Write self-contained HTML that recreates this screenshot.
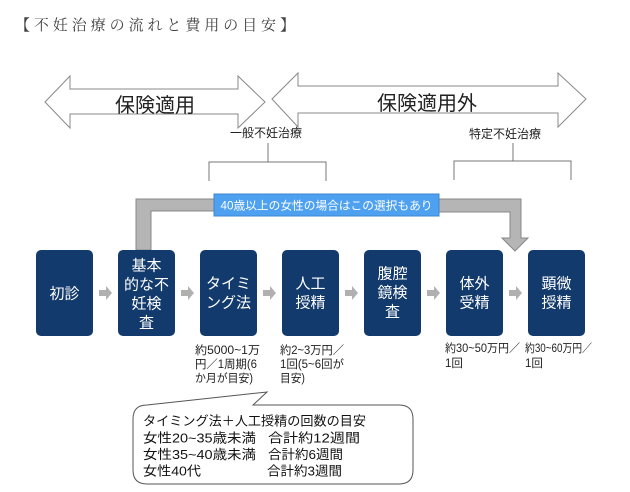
<!DOCTYPE html>
<html><head><meta charset="utf-8">
<style>
html,body{margin:0;padding:0;background:#fff;}
svg{display:block;}
text{font-family:"Liberation Sans","Noto Sans CJK JP",sans-serif;}
</style></head>
<body>
<svg width="630" height="492" viewBox="0 0 630 492" xmlns="http://www.w3.org/2000/svg">
<rect width="630" height="492" fill="#fff"/>
<!-- title -->
<text x="15" y="30" font-size="15" fill="#444" textLength="280" lengthAdjust="spacing" style="font-family:'Liberation Serif','Noto Serif CJK SC',serif">【不妊治療の流れと費用の目安】</text>

<!-- double arrows -->
<polygon points="45,102 70,76 70,89 238,89 238,76 265,102 238,128 238,114 70,114 70,128" fill="#fff" stroke="#888" stroke-width="1"/>
<text x="155" y="112" font-size="20" fill="#222" text-anchor="middle">保険適用</text>
<polygon points="272,99 298,73 298,86 558,86 558,73 586,99 558,127 558,113 298,113 298,127" fill="#fff" stroke="#888" stroke-width="1"/>
<text x="427" y="110" font-size="20" fill="#222" text-anchor="middle">保険適用外</text>

<!-- brackets -->
<text x="266" y="137" font-size="12" fill="#222" text-anchor="middle">一般不妊治療</text>
<g stroke="#777" stroke-width="1" fill="none">
<path d="M268,143 V162 M209,181 V162 H326 V181"/>
<path d="M513,143 V161 M454,180 V161 H571 V180"/>
</g>
<text x="505" y="138" font-size="12" fill="#222" text-anchor="middle">特定不妊治療</text>

<!-- gray connector -->
<path d="M136,250 V199 H230 V211 H151 V250 Z" fill="#b5b5b5" stroke="#888" stroke-width="1"/>
<path d="M420,199 H521 V238 H528 L515,251 L502,238 H510 V212 H420 Z" fill="#b5b5b5" stroke="#888" stroke-width="1"/>
<rect x="214" y="194" width="225" height="22" fill="#4ea1f0" stroke="#3d86d0" stroke-width="1"/>
<text x="326.5" y="209.5" font-size="11.5" fill="#fff" text-anchor="middle" textLength="212" lengthAdjust="spacingAndGlyphs">40歳以上の女性の場合はこの選択もあり</text>

<!-- nodes -->
<g fill="#123a6c">
<rect x="36" y="250" width="57" height="86" rx="5"/>
<rect x="118" y="250" width="57" height="86" rx="5"/>
<rect x="200" y="250" width="57" height="86" rx="5"/>
<rect x="282" y="250" width="57" height="86" rx="5"/>
<rect x="364" y="250" width="57" height="86" rx="5"/>
<rect x="446" y="250" width="57" height="86" rx="5"/>
<rect x="528" y="250" width="57" height="86" rx="5"/>
</g>
<g fill="#fff" font-size="15" text-anchor="middle">
<text x="64.5" y="298.5">初診</text>
<text x="146.5" y="270.5">基本</text>
<text x="146.5" y="289.5">的な不</text>
<text x="146.5" y="308.5">妊検</text>
<text x="146.5" y="327.5">査</text>
<text x="228.5" y="288.5">タイミ</text>
<text x="228.5" y="307.5">ング法</text>
<text x="310.5" y="288.5">人工</text>
<text x="310.5" y="307.5">授精</text>
<text x="392.5" y="278.5">腹腔</text>
<text x="392.5" y="297.5">鏡検</text>
<text x="392.5" y="316.5">査</text>
<text x="474.5" y="288.5">体外</text>
<text x="474.5" y="307.5">受精</text>
<text x="556.5" y="288.5">顕微</text>
<text x="556.5" y="307.5">授精</text>
</g>

<!-- small arrows -->
<g fill="#b0b0b0">
<path d="M99,290 H106 V286 L112,293 L106,300 V296 H99 Z"/>
<path d="M181,290 H188 V286 L194,293 L188,300 V296 H181 Z"/>
<path d="M263,290 H270 V286 L276,293 L270,300 V296 H263 Z"/>
<path d="M345,290 H352 V286 L358,293 L352,300 V296 H345 Z"/>
<path d="M427,290 H434 V286 L440,293 L434,300 V296 H427 Z"/>
<path d="M509,290 H516 V286 L522,293 L516,300 V296 H509 Z"/>
</g>

<!-- cost labels -->
<g fill="#222" font-size="11.5">
<text x="195" y="354" textLength="65" lengthAdjust="spacingAndGlyphs">約5000~1万</text>
<text x="195" y="368" textLength="62" lengthAdjust="spacingAndGlyphs">円／1周期(6</text>
<text x="195" y="382" textLength="58" lengthAdjust="spacingAndGlyphs">か月が目安)</text>
<text x="280" y="354" textLength="64" lengthAdjust="spacingAndGlyphs">約2~3万円／</text>
<text x="280" y="368" textLength="64" lengthAdjust="spacingAndGlyphs">1回(5~6回が</text>
<text x="280" y="382" textLength="25" lengthAdjust="spacingAndGlyphs">目安)</text>
<text x="445" y="352" textLength="75" lengthAdjust="spacingAndGlyphs">約30~50万円／</text>
<text x="445" y="367">1回</text>
<text x="525" y="352" textLength="67" lengthAdjust="spacingAndGlyphs">約30~60万円／</text>
<text x="525" y="367">1回</text>
</g>

<!-- bubble -->
<path d="M147,405 L267,392 L253,405 L399,405 Q413,405 413,419 L413,470 Q413,484 399,484 L147,484 Q133,484 133,470 L133,419 Q133,405 147,405 Z" fill="#fff" stroke="#555" stroke-width="1"/>
<g fill="#111" font-size="13">
<text x="143" y="425.5" textLength="223" lengthAdjust="spacingAndGlyphs">タイミング法＋人工授精の回数の目安</text>
<text x="143" y="442.5" textLength="113" lengthAdjust="spacingAndGlyphs">女性20~35歳未満</text>
<text x="268" y="442.5" textLength="92" lengthAdjust="spacingAndGlyphs">合計約12週間</text>
<text x="143" y="459" textLength="113" lengthAdjust="spacingAndGlyphs">女性35~40歳未満</text>
<text x="268" y="459" textLength="75" lengthAdjust="spacingAndGlyphs">合計約6週間</text>
<text x="143" y="475.5" textLength="58" lengthAdjust="spacingAndGlyphs">女性40代</text>
<text x="267" y="475.5" textLength="75" lengthAdjust="spacingAndGlyphs">合計約3週間</text>
</g>
</svg>
</body></html>
